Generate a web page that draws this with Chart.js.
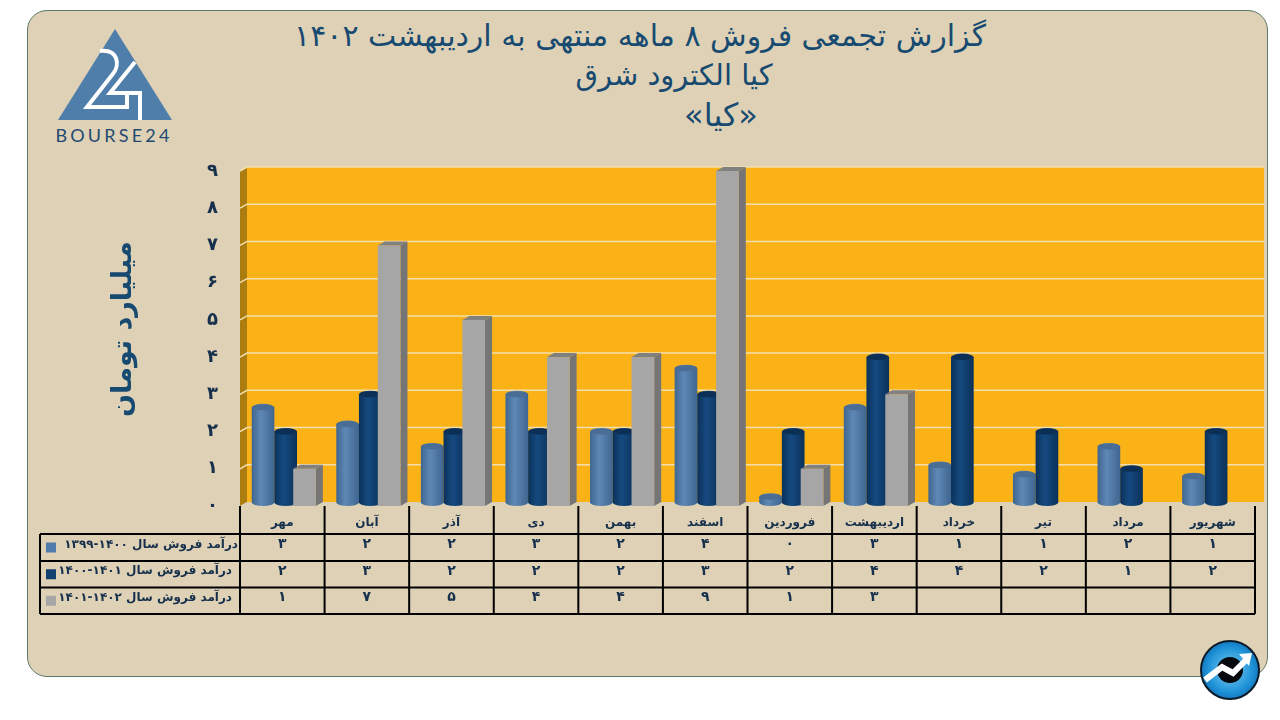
<!DOCTYPE html>
<html lang="fa">
<head>
<meta charset="utf-8">
<title>کیا</title>
<script src="https://cdn.jsdelivr.net/npm/chart.js@4"></script>
<style>
  html, body { margin: 0; padding: 0; background: #fff; }
  body { width: 1280px; height: 720px; position: relative; overflow: hidden; font-family: "DejaVu Sans", sans-serif; }
  #card { position: absolute; left: 27px; top: 10px; width: 1239px; height: 665px; background: #ded1b5; border: 1px solid #5d7a6c; border-radius: 20px; }
  #chart { position: absolute; left: 0; top: 0; }
  .head { position: absolute; color: #174a70; font-size: 30px; line-height: 40px; white-space: nowrap; transform: translateX(-50%); }
  svg { position: absolute; }
</style>
</head>
<body>
<div id="card"></div>
<div class="head" dir="rtl" style="left:640px;top:16px">گزارش تجمعی فروش ۸ ماهه منتهی به اردیبهشت ۱۴۰۲</div>
<div class="head" dir="rtl" style="left:674px;top:55px;font-size:29px">کیا الکترود شرق</div>
<div class="head" dir="rtl" style="left:721px;top:95px;font-size:32px">«کیا»</div>

<svg style="left:50px;top:25px" width="130" height="125" viewBox="50 25 130 125">
  <polygon points="115,29 172,120 58,120" fill="#4f7eaa"/>
  <path d="M100,51 C118,49 121,65 112,75 L87,107 L127,107 L127,93" fill="none" stroke="#fff" stroke-width="4"/>
  <path d="M135,62 L110,93 L140,93 L140,120" fill="none" stroke="#fff" stroke-width="4"/>
  <text x="114" y="142" text-anchor="middle" font-family="Lato, sans-serif" font-size="18" letter-spacing="3.2" fill="#1f4a72">BOURSE24</text>
</svg>

<canvas id="chart" width="1280" height="720"></canvas>

<svg style="left:1195px;top:635px" width="70" height="70" viewBox="0 0 70 70">
  <defs>
    <radialGradient id="disc" cx="50%" cy="50%" r="55%">
      <stop offset="0" stop-color="#7fcdf2"/>
      <stop offset="0.7" stop-color="#1f93d8"/>
      <stop offset="1" stop-color="#0f6fb4"/>
    </radialGradient>
  </defs>
  <circle cx="35" cy="35" r="29" fill="url(#disc)" stroke="#0a1a26" stroke-width="2"/>
  <circle cx="35" cy="35" r="13" fill="#06090d"/>
  <path d="M10,45 L27,32 L38,38 L52,24" fill="none" stroke="#fff" stroke-width="6"/>
  <polygon points="44,19 57,18 54,31" fill="#fff"/>
</svg>

<script>
const months = ['مهر', 'آبان', 'آذر', 'دی', 'بهمن', 'اسفند', 'فروردین', 'اردیبهشت', 'خرداد', 'تیر', 'مرداد', 'شهریور'];
const sales1399 = [2.65, 2.2, 1.6, 3.0, 2.0, 3.7, 0.25, 2.65, 1.1, 0.85, 1.6, 0.8];
const sales1400 = [2.0, 3.0, 2.0, 2.0, 2.0, 3.0, 2.0, 4.0, 4.0, 2.0, 1.0, 2.0];
const sales1401 = [1.0, 7.0, 5.0, 4.0, 4.0, 9.0, 1.0, 3.0, null, null, null, null];
// the later year comes first: the bidi order puts it on the right, as in the picture
const seriesNames = ['درآمد فروش سال ۱۴۰۰-۱۳۹۹', 'درآمد فروش سال ۱۴۰۱-۱۴۰۰', 'درآمد فروش سال ۱۴۰۲-۱۴۰۱'];
const seriesColors = ['#4f7cab', '#12406f', '#a6a6a6'];

const FA = '۰۱۲۳۴۵۶۷۸۹';
const toFa = n => String(n).replace(/\d/g, d => FA[d]);

// depth of the fake 3d box
const DX = 7, DY = -4;
const boldFont = px => `bold ${px}px "DejaVu Sans", sans-serif`;

function cylinder(ctx, x, w, top, base, edge, mid, cap) {
  const rx = w / 2, ry = 3.5, cx = x + rx;
  const g = ctx.createLinearGradient(x, 0, x + w, 0);
  g.addColorStop(0, edge);
  g.addColorStop(0.4, mid);
  g.addColorStop(1, edge);
  ctx.fillStyle = g;
  ctx.beginPath();
  ctx.moveTo(x, top);
  ctx.lineTo(x, base - ry);
  ctx.ellipse(cx, base - ry, rx, ry, 0, Math.PI, 0, true);
  ctx.lineTo(x + w, top);
  ctx.closePath();
  ctx.fill();
  ctx.beginPath();
  ctx.ellipse(cx, top, rx, ry, 0, 0, Math.PI * 2);
  ctx.fill();
  ctx.fillStyle = cap;
  ctx.beginPath();
  ctx.ellipse(cx, top, rx - 1, ry - 0.5, 0, 0, Math.PI * 2);
  ctx.fill();
}

function box(ctx, x, w, top, base) {
  ctx.fillStyle = '#757575';
  ctx.beginPath();
  ctx.moveTo(x + w, top);
  ctx.lineTo(x + w + DX, top + DY);
  ctx.lineTo(x + w + DX, base + DY);
  ctx.lineTo(x + w, base);
  ctx.closePath();
  ctx.fill();
  ctx.fillStyle = '#808080';
  ctx.beginPath();
  ctx.moveTo(x, top);
  ctx.lineTo(x + DX, top + DY);
  ctx.lineTo(x + w + DX, top + DY);
  ctx.lineTo(x + w, top);
  ctx.closePath();
  ctx.fill();
  ctx.fillStyle = '#a6a6a6';
  ctx.fillRect(x, top, w, base - top);
}

const wallPlugin = {
  id: 'wall',
  beforeDatasetsDraw(chart) {
    const { ctx, chartArea: a, scales: { y } } = chart;
    ctx.save();
    // side wall
    ctx.fillStyle = '#ab7c10';
    ctx.beginPath();
    ctx.moveTo(a.left, a.top);
    ctx.lineTo(a.left + DX, a.top + DY);
    ctx.lineTo(a.left + DX, a.bottom + DY);
    ctx.lineTo(a.left, a.bottom);
    ctx.closePath();
    ctx.fill();
    // back wall
    ctx.fillStyle = '#fbb217';
    ctx.fillRect(a.left + DX, a.top + DY, a.right - a.left + 2, a.bottom - a.top);
    // floor
    ctx.fillStyle = '#ded2b6';
    ctx.beginPath();
    ctx.moveTo(a.left, a.bottom);
    ctx.lineTo(a.left + DX, a.bottom + DY);
    ctx.lineTo(a.right + 9, a.bottom + DY);
    ctx.lineTo(a.right, a.bottom);
    ctx.closePath();
    ctx.fill();
    // grid lines on the wall
    ctx.strokeStyle = '#f3dfae';
    ctx.lineWidth = 1.5;
    y.ticks.forEach(t => {
      if (t.value === 0) return;
      const py = y.getPixelForValue(t.value);
      ctx.beginPath();
      ctx.moveTo(a.left, py);
      ctx.lineTo(a.left + DX, py + DY);
      ctx.lineTo(a.right + 9, py + DY);
      ctx.stroke();
    });
    // bars, first series at the back
    const nudge = [1, 3.4, 2];
    chart.data.datasets.forEach((ds, i) => {
      chart.getDatasetMeta(i).data.forEach((bar, j) => {
        if (ds.data[j] == null) return;
        const x = bar.x - bar.width / 2 + nudge[i];
        if (i === 0) cylinder(ctx, x, bar.width, bar.y, bar.base, '#3f668f', '#5f88b6', '#4a6d96');
        if (i === 1) cylinder(ctx, x, bar.width, bar.y, bar.base, '#0b3159', '#154a80', '#0c2f55');
        if (i === 2) box(ctx, x, bar.width, bar.y, bar.base);
      });
    });
    ctx.restore();
    return false;
  }
};

const tablePlugin = {
  id: 'dataTable',
  afterDraw(chart) {
    const { ctx, scales: { x } } = chart;
    const a = chart.chartArea;
    const rowLines = [a.bottom + 28, a.bottom + 55, a.bottom + 81.5, a.bottom + 108];
    const labelLeft = 40;
    const rows = [sales1399, sales1400, sales1401];
    const textEnd = [238, 232, 232];
    ctx.save();
    ctx.strokeStyle = '#000';
    ctx.lineWidth = 2;
    ctx.beginPath();
    rowLines.forEach(py => { ctx.moveTo(labelLeft, py); ctx.lineTo(a.right, py); });
    ctx.moveTo(labelLeft, rowLines[0]);
    ctx.lineTo(labelLeft, rowLines[3]);
    const step = x.getPixelForTick(1) - x.getPixelForTick(0);
    months.forEach((m, i) => {
      const px = x.getPixelForTick(i) - step / 2;
      ctx.moveTo(px, a.bottom);
      ctx.lineTo(px, rowLines[3]);
    });
    ctx.moveTo(a.right, a.bottom);
    ctx.lineTo(a.right, rowLines[3]);
    ctx.stroke();

    ctx.textBaseline = 'middle';
    rows.forEach((row, r) => {
      const cy = (rowLines[r] + rowLines[r + 1]) / 2 - 3;
      ctx.fillStyle = seriesColors[r];
      ctx.fillRect(46, cy - 2, 10, 10);
      ctx.fillStyle = '#17304d';
      ctx.font = boldFont(12);
      ctx.direction = 'rtl';
      ctx.textAlign = 'right';
      ctx.fillText(seriesNames[r], textEnd[r], cy);
      ctx.direction = 'ltr';
      ctx.textAlign = 'center';
      ctx.font = boldFont(14);
      row.forEach((v, i) => {
        if (v == null) return;
        ctx.fillText(toFa(Math.round(v)), x.getPixelForTick(i), cy);
      });
    });
    ctx.restore();
  }
};

new Chart(document.getElementById('chart'), {
  type: 'bar',
  data: {
    labels: months,
    datasets: [
      { label: seriesNames[0], data: sales1399, backgroundColor: seriesColors[0] },
      { label: seriesNames[1], data: sales1400, backgroundColor: seriesColors[1] },
      { label: seriesNames[2], data: sales1401, backgroundColor: seriesColors[2] }
    ]
  },
  plugins: [wallPlugin, tablePlugin],
  options: {
    responsive: false,
    animation: false,
    categoryPercentage: 0.718,
    barPercentage: 1.12,
    layout: { padding: { top: 171, right: 25 } },
    plugins: { legend: { display: false }, title: { display: false }, tooltip: { enabled: false } },
    scales: {
      x: {
        grid: { display: false },
        border: { display: false },
        afterFit: s => { s.height = 214; },
        ticks: {
          maxRotation: 0,
          autoSkip: false,
          padding: 2,
          color: '#17304d',
          font: { family: '"DejaVu Sans", sans-serif', size: 12, weight: 'bold' }
        }
      },
      y: {
        min: 0,
        max: 9,
        grid: { display: false },
        border: { display: false },
        afterFit: s => { s.width = 240; },
        ticks: {
          stepSize: 1,
          padding: 14,
          color: '#17304d',
          font: { family: '"DejaVu Sans", sans-serif', size: 18, weight: 'bold' },
          callback: v => toFa(v)
        },
        title: {
          display: true,
          text: '\u00a0\u00a0میلیارد تومان',
          color: '#174a70',
          padding: { top: 108, bottom: 0 },
          font: { family: '"DejaVu Sans", sans-serif', size: 27, weight: 'bold' }
        }
      }
    }
  }
});
</script>
</body>
</html>
